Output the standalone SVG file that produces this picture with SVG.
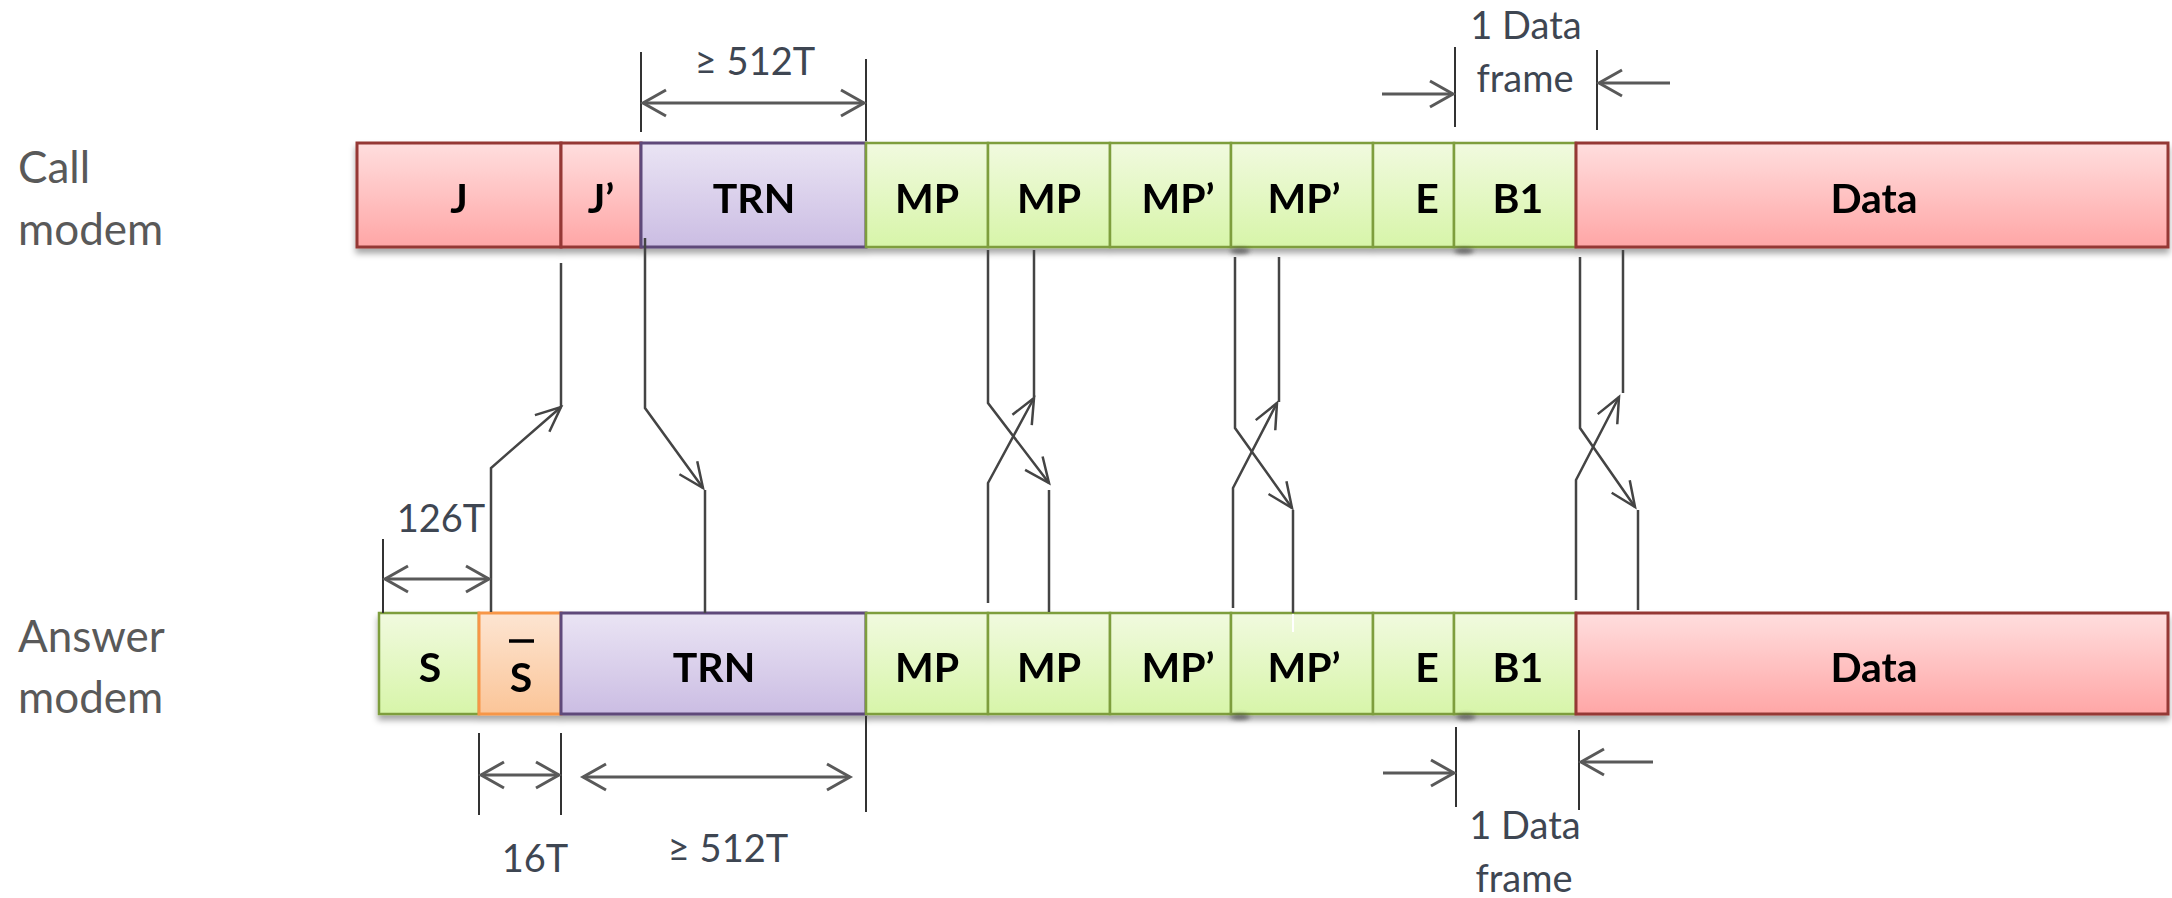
<svg xmlns="http://www.w3.org/2000/svg" width="2172" height="898" viewBox="0 0 2172 898">
<defs>
<linearGradient id="gRed" x1="0" y1="0" x2="0" y2="1"><stop offset="0" stop-color="#FFDEDE"/><stop offset="1" stop-color="#FFA6A6"/></linearGradient>
<linearGradient id="gPur" x1="0" y1="0" x2="0" y2="1"><stop offset="0" stop-color="#EAE4F4"/><stop offset="1" stop-color="#CBBDE3"/></linearGradient>
<linearGradient id="gGrn" x1="0" y1="0" x2="0" y2="1"><stop offset="0" stop-color="#F1FADF"/><stop offset="1" stop-color="#D7F5A9"/></linearGradient>
<linearGradient id="gOrg" x1="0" y1="0" x2="0" y2="1"><stop offset="0" stop-color="#FDE5D2"/><stop offset="1" stop-color="#FBC598"/></linearGradient>
<filter id="shadow" x="-5%" y="-20%" width="110%" height="150%"><feDropShadow dx="0" dy="5" stdDeviation="3" flood-color="#000" flood-opacity="0.35"/></filter>
<filter id="blur" x="-50%" y="-100%" width="200%" height="300%"><feGaussianBlur stdDeviation="2"/></filter>
<marker id="chev" markerUnits="userSpaceOnUse" orient="auto-start-reverse" viewBox="-30 -20 34 40" markerWidth="34" markerHeight="40" refX="0" refY="0"><path d="M-23,-13 L0,0 L-23,13" fill="none" stroke="#595959" stroke-width="3"/></marker>
<marker id="arr" markerUnits="userSpaceOnUse" orient="auto" viewBox="-30 -16 34 32" markerWidth="34" markerHeight="32" refX="0" refY="0"><path d="M-25,-11 L0,0 L-25,11" fill="none" stroke="#444" stroke-width="2.5"/></marker>
</defs>
<style>
.lbl{font-family:Lato,"Open Sans","Liberation Sans",sans-serif;font-weight:bold;font-size:41px;fill:#000;text-anchor:middle}
.side{font-family:Lato,"Open Sans","Liberation Sans",sans-serif;font-size:44px;fill:#595959}
.dim{font-family:Lato,"Open Sans","Liberation Sans",sans-serif;font-size:38px;fill:#3E4652;text-anchor:middle}
.red{fill:url(#gRed);stroke:#953735;stroke-width:3}
.pur{fill:url(#gPur);stroke:#5F497A;stroke-width:3}
.grn{fill:url(#gGrn);stroke:#7E9E3E;stroke-width:2.5}
.org{fill:url(#gOrg);stroke:#F79646;stroke-width:3}
.tick{stroke:#333;stroke-width:2;fill:none}
.darr{stroke:#595959;stroke-width:3;fill:none}
.con{stroke:#444;stroke-width:2.5;fill:none}
</style>
<rect width="2172" height="898" fill="#fff"/>

<g id="label-call"><text class="side" x="18" y="183">Call</text><text class="side" x="18" y="245">modem</text></g>
<g id="label-answer"><text class="side" x="18" y="652">Answer</text><text class="side" x="18" y="713">modem</text></g>

<g id="call-bar" filter="url(#shadow)">
<g id="call-J"><rect class="red" x="357" y="143" width="204" height="104"/><text class="lbl" x="459" y="213">J</text></g>
<g id="call-Jp"><rect class="red" x="561" y="143" width="80" height="104"/><text class="lbl" x="601" y="213">J’</text></g>
<g id="call-TRN"><rect class="pur" x="641" y="143" width="225" height="104"/><text class="lbl" x="754" y="213">TRN</text></g>
<g id="call-MP1"><rect class="grn" x="866" y="143" width="122" height="104"/><text class="lbl" x="927" y="213">MP</text></g>
<g id="call-MP2"><rect class="grn" x="988" y="143" width="122" height="104"/><text class="lbl" x="1049" y="213">MP</text></g>
<g id="call-MPp1"><rect class="grn" x="1110" y="143" width="121" height="104"/><text class="lbl" x="1178" y="213">MP’</text></g>
<g id="call-MPp2"><rect class="grn" x="1231" y="143" width="142" height="104"/><text class="lbl" x="1304" y="213">MP’</text></g>
<g id="call-E"><rect class="grn" x="1373" y="143" width="81" height="104"/><text class="lbl" x="1427" y="213">E</text></g>
<g id="call-B1"><rect class="grn" x="1454" y="143" width="122" height="104"/><text class="lbl" x="1518" y="213">B1</text></g>
<g id="call-Data"><rect class="red" x="1576" y="143" width="592" height="104"/><text class="lbl" x="1874" y="213">Data</text></g>
</g>

<g id="answer-bar" filter="url(#shadow)">
<g id="ans-S"><rect class="grn" x="379" y="613" width="100" height="101"/><text class="lbl" x="430" y="682">S</text></g>
<g id="ans-Sbar"><rect class="org" x="479" y="613" width="82" height="101"/><text class="lbl" x="521" y="692">S</text><line x1="509" y1="641" x2="534" y2="641" stroke="#000" stroke-width="3.5"/></g>
<g id="ans-TRN"><rect class="pur" x="561" y="613" width="305" height="101"/><text class="lbl" x="714" y="682">TRN</text></g>
<g id="ans-MP1"><rect class="grn" x="866" y="613" width="122" height="101"/><text class="lbl" x="927" y="682">MP</text></g>
<g id="ans-MP2"><rect class="grn" x="988" y="613" width="122" height="101"/><text class="lbl" x="1049" y="682">MP</text></g>
<g id="ans-MPp1"><rect class="grn" x="1110" y="613" width="121" height="101"/><text class="lbl" x="1178" y="682">MP’</text></g>
<g id="ans-MPp2"><rect class="grn" x="1231" y="613" width="142" height="101"/><text class="lbl" x="1304" y="682">MP’</text></g>
<g id="ans-E"><rect class="grn" x="1373" y="613" width="81" height="101"/><text class="lbl" x="1427" y="682">E</text></g>
<g id="ans-B1"><rect class="grn" x="1454" y="613" width="122" height="101"/><text class="lbl" x="1518" y="682">B1</text></g>
<g id="ans-Data"><rect class="red" x="1576" y="613" width="592" height="101"/><text class="lbl" x="1874" y="682">Data</text></g>
</g>

<g id="smudges" fill="#444" filter="url(#blur)" opacity="0.7">
<ellipse cx="1240" cy="251" rx="10" ry="3"/><ellipse cx="1464" cy="251" rx="10" ry="3"/>
<ellipse cx="1240" cy="717" rx="10" ry="3"/><ellipse cx="1466" cy="717" rx="10" ry="3"/>
</g>

<g id="connectors">
<path class="con" d="M491,612 V468 L561,407" marker-end="url(#arr)"/><path class="con" d="M561,407 V263"/>
<path class="con" d="M645,238 V408 L703,488" marker-end="url(#arr)"/><path class="con" d="M705,490 V613"/>
<path class="con" d="M988,250 V403 L1049,483" marker-end="url(#arr)"/><path class="con" d="M1049,490 V612"/>
<path class="con" d="M988,603 V483 L1034,398" marker-end="url(#arr)"/><path class="con" d="M1034,397 V250"/>
<path class="con" d="M1235,257 V428 L1292,508" marker-end="url(#arr)"/><path class="con" d="M1293,510 V613"/>
<line x1="1293" y1="614" x2="1293" y2="632" stroke="#fff" stroke-width="2"/>
<path class="con" d="M1233,608 V488 L1277,403" marker-end="url(#arr)"/><path class="con" d="M1279,402 V257"/>
<path class="con" d="M1580,257 V428 L1635,507" marker-end="url(#arr)"/><path class="con" d="M1638,510 V610"/>
<path class="con" d="M1576,600 V480 L1619,397" marker-end="url(#arr)"/><path class="con" d="M1623,393 V250"/>
</g>

<g id="dim-top-512T">
<line class="tick" x1="641" y1="52" x2="641" y2="132"/><line class="tick" x1="866" y1="59" x2="866" y2="141"/>
<line class="darr" x1="643" y1="103" x2="864" y2="103" marker-start="url(#chev)" marker-end="url(#chev)"/>
<text class="dim" x="755" y="75">≥ 512T</text>
</g>
<g id="dim-top-frame">
<line class="tick" x1="1455" y1="47" x2="1455" y2="127"/><line class="tick" x1="1597" y1="50" x2="1597" y2="130"/>
<line class="darr" x1="1382" y1="94" x2="1453" y2="94" marker-end="url(#chev)"/>
<line class="darr" x1="1670" y1="83" x2="1599" y2="83" marker-end="url(#chev)"/>
<text class="dim" x="1526" y="39">1 Data</text><text class="dim" x="1525" y="92">frame</text>
</g>
<g id="dim-126T">
<line class="tick" x1="383" y1="539" x2="383" y2="613"/>
<line class="darr" x1="385" y1="579" x2="489" y2="579" marker-start="url(#chev)" marker-end="url(#chev)"/>
<text class="dim" x="441" y="532">126T</text>
</g>
<g id="dim-16T">
<line class="tick" x1="479" y1="733" x2="479" y2="815"/><line class="tick" x1="561" y1="733" x2="561" y2="815"/>
<line class="darr" x1="481" y1="775" x2="559" y2="775" marker-start="url(#chev)" marker-end="url(#chev)"/>
<text class="dim" x="535" y="872">16T</text>
</g>
<g id="dim-bottom-512T">
<line class="tick" x1="866" y1="716" x2="866" y2="812"/>
<line class="darr" x1="583" y1="777" x2="850" y2="777" marker-start="url(#chev)" marker-end="url(#chev)"/>
<text class="dim" x="728" y="862">≥ 512T</text>
</g>
<g id="dim-bottom-frame">
<line class="tick" x1="1456" y1="727" x2="1456" y2="807"/><line class="tick" x1="1579" y1="730" x2="1579" y2="810"/>
<line class="darr" x1="1383" y1="773" x2="1454" y2="773" marker-end="url(#chev)"/>
<line class="darr" x1="1653" y1="762" x2="1581" y2="762" marker-end="url(#chev)"/>
<text class="dim" x="1525" y="839">1 Data</text><text class="dim" x="1524" y="892">frame</text>
</g>
</svg>
